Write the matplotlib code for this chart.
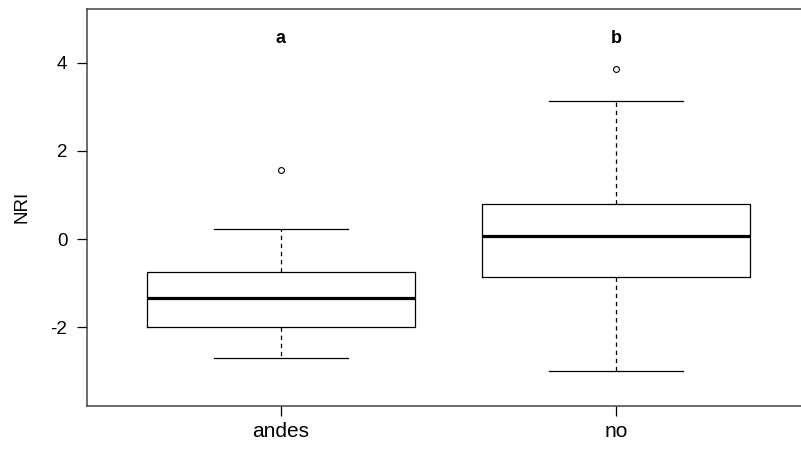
import matplotlib
matplotlib.use("Agg")
import matplotlib.pyplot as plt

categories = ["andes", "no"]
whislo = [-2.69, -2.99]
q1 = [-1.99, -0.86]
med = [-1.34, 0.08]
q3 = [-0.75, 0.79]
whishi = [0.22, 3.13]
fliers = [[1.57], [3.85]]
letters = ["a", "b"]
letter_y = 4.44

plt.rcParams['font.family'] = ['Liberation Sans', 'DejaVu Sans']

fig = plt.figure(figsize=(8.01, 4.49), dpi=100)
ax = fig.add_axes([87/801, 43/449, 728/801, 397.3/449])

stats = []
for i, c in enumerate(categories):
    stats.append(dict(label=c, whislo=whislo[i], q1=q1[i], med=med[i],
                      q3=q3[i], whishi=whishi[i], fliers=fliers[i]))

pos = [1, 2]
ax.bxp(stats, positions=pos, widths=0.8, capwidths=0.4, showfliers=True,
       boxprops=dict(color='black', linewidth=0.9),
       whiskerprops=dict(color='black', linewidth=0.9, linestyle=(0, (3.5, 3))),
       capprops=dict(color='black', linewidth=0.9),
       medianprops=dict(color='black', linewidth=2.3, solid_capstyle='butt'),
       flierprops=dict(marker='o', markersize=4.2, markerfacecolor='white',
                       markeredgecolor='black', markeredgewidth=0.8, linestyle='none'))

for p, t in zip(pos, letters):
    ax.text(p, letter_y, t, ha='center', va='baseline', fontsize=13,
            fontweight='bold')

ax.set_xlim(0.421, 2.594)
ax.set_ylim(-3.79, 5.23)
ax.set_yticks([-2, 0, 2, 4])
ax.set_yticklabels(["-2", "0", "2", "4"])
ax.set_xticks(pos)
ax.set_xticklabels(categories)

ax.tick_params(axis='y', labelsize=13.5, length=7.2, width=0.9, pad=7, colors='black')
ax.tick_params(axis='x', labelsize=15, length=7.2, width=0.9, pad=4, colors='black')
for s in ax.spines.values():
    s.set_color('#444444')
    s.set_linewidth(1.1)
ax.spines['right'].set_visible(False)

ax.set_ylabel("NRI", fontsize=13.5, va='center')
ax.yaxis.set_label_coords(-0.0889, 0.5)

fig.savefig("out.png", dpi=100)
